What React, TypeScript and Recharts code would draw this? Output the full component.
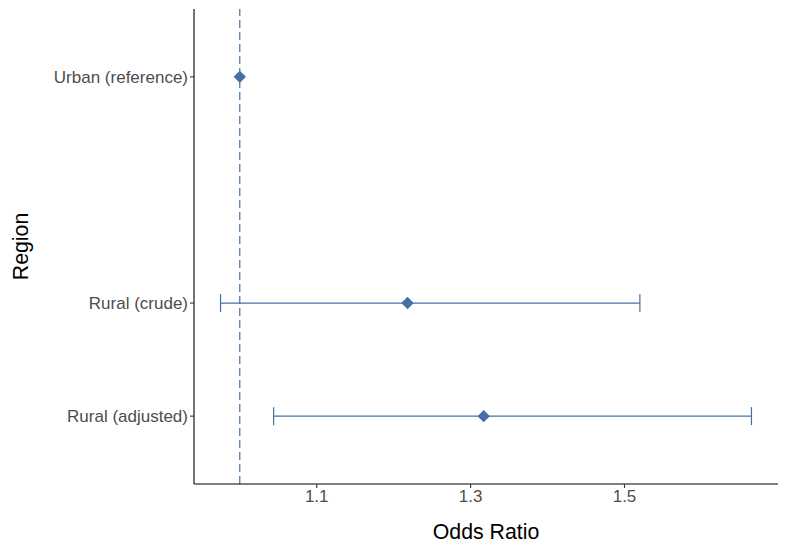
import React from "react";
import {
  ComposedChart,
  Scatter,
  XAxis,
  YAxis,
  ErrorBar,
  ReferenceLine,
} from "recharts";

// ---- data ----
const categories = ["Rural (adjusted)", "Rural (crude)", "Urban (reference)"];
const categoryPositions = [1, 2, 4];
const oddsRatios = [1.317, 1.218, 1.0];
const lowerCI = [1.044, 0.975, 1.0];
const upperCI = [1.665, 1.52, 1.0];
const xTicks = [1.1, 1.3, 1.5];
const referenceOR = 1.0;

const COLOR = "#4470A6";
const FONT = '"Liberation Sans", Arial, Helvetica, sans-serif';

const rows = categories.map((c, i) => ({
  name: c,
  y: categoryPositions[i],
  x: oddsRatios[i],
  err: [oddsRatios[i] - lowerCI[i], upperCI[i] - oddsRatios[i]],
  hasCI: lowerCI[i] !== upperCI[i],
}));
const ciRows = rows.filter((r) => r.hasCI);
const refRows = rows.filter((r) => !r.hasCI);

// ggplot-like 5% expansion of the x range
const xMin = Math.min(...lowerCI);
const xMax = Math.max(...upperCI);
const xPad = (xMax - xMin) * 0.05;
const xDomain = [xMin - xPad, xMax + xPad];

const labelFor = (v: number) => {
  const idx = categoryPositions.indexOf(v);
  return idx >= 0 ? categories[idx] : "";
};

const Diamond = (props: any) => {
  const { cx, cy } = props;
  if (cx == null || cy == null) return null;
  const r = 6.2;
  return (
    <polygon
      points={`${cx},${cy - r} ${cx + r},${cy} ${cx},${cy + r} ${cx - r},${cy}`}
      fill={COLOR}
      stroke="none"
    />
  );
};

const XTitle = (props: any) => {
  const vb = props.viewBox || {};
  const cx = vb.x + vb.width / 2;
  return (
    <text
      x={cx}
      y={vb.y + 55}
      textAnchor="middle"
      fontFamily={FONT}
      fontSize={21.3}
      fill="#000000"
    >
      Odds Ratio
    </text>
  );
};

const YTitle = (props: any) => {
  const vb = props.viewBox || {};
  const cy = vb.y + vb.height / 2;
  return (
    <text
      transform={`translate(28, ${cy}) rotate(-90)`}
      textAnchor="middle"
      fontFamily={FONT}
      fontSize={21.3}
      fill="#000000"
    >
      Region
    </text>
  );
};

export default function App() {
  return (
    <div style={{ position: "absolute", left: 0, top: 0, background: "#fff" }}>
      <ComposedChart
        width={786}
        height={552}
        margin={{ top: 9, right: 8, bottom: 0, left: 0 }}
      >
        <XAxis
          type="number"
          dataKey="x"
          domain={xDomain}
          allowDataOverflow
          ticks={xTicks}
          tickFormatter={(v: number) => v.toFixed(1)}
          height={68}
          tickSize={4}
          tickMargin={2}
          axisLine={{ stroke: "#000", strokeWidth: 1.1 }}
          tickLine={{ stroke: "#333", strokeWidth: 1.1 }}
          tick={{ fill: "#4D4D4D", fontSize: 17, fontFamily: FONT }}
          label={<XTitle />}
        />
        <YAxis
          type="number"
          dataKey="y"
          domain={[0.4, 4.6]}
          allowDataOverflow
          ticks={categoryPositions}
          tickFormatter={labelFor}
          width={194}
          tickSize={4}
          tickMargin={2}
          axisLine={{ stroke: "#000", strokeWidth: 1.1 }}
          tickLine={{ stroke: "#333", strokeWidth: 1.1 }}
          tick={{ fill: "#4D4D4D", fontSize: 17, fontFamily: FONT }}
          label={<YTitle />}
        />
        <ReferenceLine
          x={referenceOR}
          stroke={COLOR}
          strokeWidth={1.2}
          strokeDasharray="8 4"
          ifOverflow="extendDomain"
        />
        <Scatter
          data={ciRows}
          dataKey="x"
          shape={<Diamond />}
          isAnimationActive={false}
        >
          <ErrorBar
            dataKey="err"
            direction="x"
            width={9}
            stroke={COLOR}
            strokeWidth={1.2}
            isAnimationActive={false}
          />
        </Scatter>
        <Scatter
          data={refRows}
          dataKey="x"
          shape={<Diamond />}
          isAnimationActive={false}
        />
      </ComposedChart>
    </div>
  );
}
